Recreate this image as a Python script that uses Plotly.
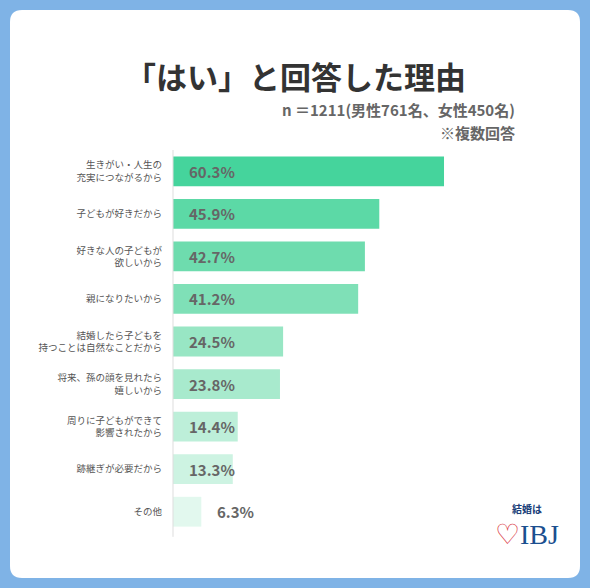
import plotly.graph_objects as go

categories = ['生きがい・人生の<br>充実につながるから', '子どもが好きだから', '好きな人の子どもが<br>欲しいから',
              '親になりたいから', '結婚したら子どもを<br>持つことは自然なことだから', '将来、孫の顔を見れたら<br>嬉しいから',
              '周りに子どもができて<br>影響されたから', '跡継ぎが必要だから', 'その他']
values = [60.3, 45.9, 42.7, 41.2, 24.5, 23.8, 14.4, 13.3, 6.3]
colors = ['#45d49c', '#5cd9a6', '#6edcae', '#7fe0b7', '#98e6c4', '#a8eacd', '#bdefd9', '#cdf3e2', '#e2f8ee']

W, H = 590, 588
ML, MR, MT, MB = 173, 17, 150, 55
PW, PH = W - ML - MR, H - MT - MB
XMAX = 89

def px(x):
    return (x - ML) / PW

def py(y):
    return (H - MB - y) / PH

fig = go.Figure()
fig.add_trace(go.Bar(x=values, y=categories, orientation='h', marker=dict(color=colors, line_width=0),
                     width=0.7, hoverinfo='skip'))

for v, c in zip(values, categories):
    inside = v > 10
    fig.add_annotation(x=3.1 if inside else v + 3.1, y=c, text=f'<b>{v}%</b>', showarrow=False,
                       xanchor='left', font=dict(size=15, color='#666666'))

# white rounded card
x0, y0, x1, y1, r = 10, 10, 580, 578, 12
path = (f'M {px(x0+r)} {py(y0)} L {px(x1-r)} {py(y0)} Q {px(x1)} {py(y0)} {px(x1)} {py(y0+r)} '
        f'L {px(x1)} {py(y1-r)} Q {px(x1)} {py(y1)} {px(x1-r)} {py(y1)} '
        f'L {px(x0+r)} {py(y1)} Q {px(x0)} {py(y1)} {px(x0)} {py(y1-r)} '
        f'L {px(x0)} {py(y0+r)} Q {px(x0)} {py(y0)} {px(x0+r)} {py(y0)} Z')
fig.add_shape(type='path', path=path, xref='paper', yref='paper', fillcolor='white',
              line_width=0, layer='below')
fig.add_shape(type='line', xref='paper', yref='paper', x0=0, x1=0, y0=-0.01, y1=1.0,
              line=dict(color='#dddddd', width=1))

def note(x, y, text, size, color, xanchor='center', family=None):
    fig.add_annotation(xref='paper', yref='paper', x=px(x), y=py(y), text=text, showarrow=False,
                       xanchor=xanchor, yanchor='middle',
                       font=dict(size=size, color=color, family=family))

note(295, 75, '<b>「はい」と回答した理由</b>', 31, '#333333')
note(517, 110, '<b>n ＝1211(男性761名、女性450名)</b>', 15, '#666666', 'right')
note(517, 133, '<b>※複数回答</b>', 15, '#666666', 'right')
note(527, 508, '<b>結婚は</b>', 10, '#1b3f7a', family='Noto Sans CJK JP')
note(527, 534, '<span style="color:#d9363e">♡</span>IBJ', 28, '#1b4f8f', family='Liberation Serif')

fig.update_layout(
    width=W, height=H,
    margin=dict(l=ML, r=MR, t=MT, b=MB),
    paper_bgcolor='#7fb3e6', plot_bgcolor='rgba(0,0,0,0)',
    font=dict(family='Noto Sans CJK JP', color='#555555'),
    showlegend=False,
    xaxis=dict(range=[0, XMAX], visible=False),
    yaxis=dict(autorange='reversed', showgrid=False, showline=False, ticks='',
               tickfont=dict(size=9.5, color='#555555'), ticklabelstandoff=10),
)

fig.write_html('out.html', config={'displayModeBar': False},
               post_script="document.body.style.margin='0';")
